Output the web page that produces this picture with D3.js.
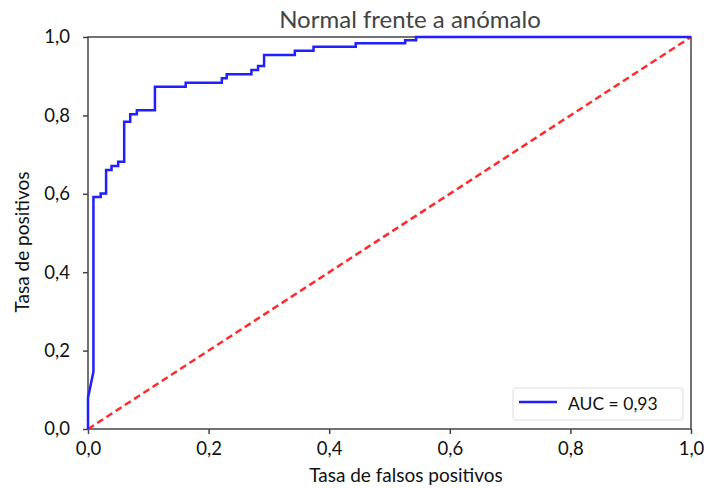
<!DOCTYPE html>
<html>
<head>
<meta charset="utf-8">
<script src="https://cdn.jsdelivr.net/npm/d3@7"></script>
<style>
  body { margin: 0; background: #fff; }
  text { font-family: Lato, "Open Sans", sans-serif; }
</style>
</head>
<body>
<svg id="chart" width="704" height="488"></svg>
<script>
// curva ROC
const fpr = [0, 0, 0.009, 0.009, 0.021, 0.021, 0.030, 0.030, 0.039, 0.039, 0.050, 0.050,
  0.060, 0.060, 0.070, 0.070, 0.081, 0.081, 0.111, 0.111, 0.162, 0.162, 0.222, 0.222,
  0.230, 0.230, 0.271, 0.271, 0.282, 0.282, 0.292, 0.292, 0.343, 0.343, 0.374, 0.374,
  0.444, 0.444, 0.526, 0.526, 0.544, 0.544, 1.0];
const tpr = [0, 0.08, 0.146, 0.592, 0.592, 0.601, 0.601, 0.661, 0.661, 0.671, 0.671, 0.682,
  0.682, 0.784, 0.784, 0.803, 0.803, 0.813, 0.813, 0.873, 0.873, 0.883, 0.883, 0.895,
  0.895, 0.905, 0.905, 0.916, 0.916, 0.926, 0.926, 0.954, 0.954, 0.965, 0.965, 0.975,
  0.975, 0.984, 0.984, 0.992, 0.992, 1.0, 1.0];
const diagonal = [0, 1];
const ticks = [0, 0.2, 0.4, 0.6, 0.8, 1.0];
const titulo = "Normal frente a anómalo";
const etiquetaX = "Tasa de falsos positivos";
const etiquetaY = "Tasa de positivos";
const leyenda = "AUC = 0,93";

const svg = d3.select("#chart");
const x = d3.scaleLinear().domain([0, 1]).range([88, 691]);
const y = d3.scaleLinear().domain([0, 1]).range([429, 37]);
const fmt = d => d3.format(".1f")(d).replace(".", ",");

// ejes
const ejeX = svg.append("g").attr("transform", "translate(0,429)")
  .call(d3.axisBottom(x).tickValues(ticks).tickFormat(fmt).tickSize(5).tickPadding(8));
const ejeY = svg.append("g").attr("transform", "translate(88,0)")
  .call(d3.axisLeft(y).tickValues(ticks).tickFormat(fmt).tickSize(5).tickPadding(13));
[ejeX, ejeY].forEach(g => {
  g.select(".domain").remove();
  g.selectAll("line").attr("stroke", "#444").attr("stroke-width", 1.5);
  g.selectAll("text").attr("font-size", 18.5).attr("fill", "#111")
    .style("font-family", "Lato, 'Open Sans', sans-serif");
});

// marco
svg.append("rect").attr("x", x(0)).attr("y", y(1))
  .attr("width", x(1) - x(0)).attr("height", y(0) - y(1))
  .attr("fill", "none").attr("stroke", "#444").attr("stroke-width", 1.5);

// diagonal
svg.append("line")
  .attr("x1", x(diagonal[0])).attr("y1", y(diagonal[0]))
  .attr("x2", x(diagonal[1])).attr("y2", y(diagonal[1]))
  .attr("stroke", "#ff2a2a").attr("stroke-width", 2.5).attr("stroke-dasharray", "7,4");

// curva
const linea = d3.line().x(d => x(d[0])).y(d => y(d[1]));
svg.append("path").datum(fpr.map((f, i) => [f, tpr[i]]))
  .attr("d", linea).attr("fill", "none")
  .attr("stroke", "#1f1fff").attr("stroke-width", 2.5);

// titulo con fondo blanco
svg.append("rect").attr("x", 273).attr("y", 0).attr("width", 275).attr("height", 34).attr("fill", "#fff");
svg.append("text").attr("x", 410).attr("y", 28).attr("text-anchor", "middle")
  .attr("font-size", 24).attr("fill", "#444").text(titulo);

svg.append("text").attr("x", 406).attr("y", 482).attr("text-anchor", "middle")
  .attr("font-size", 19).attr("fill", "#111").text(etiquetaX);
svg.append("text").attr("transform", "translate(29,242) rotate(-90)")
  .attr("text-anchor", "middle").attr("font-size", 19).attr("fill", "#111").text(etiquetaY);

// leyenda
const ley = svg.append("g");
ley.append("rect").attr("x", 513).attr("y", 388).attr("width", 170).attr("height", 32)
  .attr("rx", 3).attr("fill", "#fff").attr("stroke", "#ddd");
ley.append("line").attr("x1", 519).attr("x2", 557).attr("y1", 402).attr("y2", 402)
  .attr("stroke", "#1f1fff").attr("stroke-width", 2.5);
ley.append("text").attr("x", 568).attr("y", 410).attr("font-size", 17.5).attr("fill", "#111").text(leyenda);
</script>
</body>
</html>
